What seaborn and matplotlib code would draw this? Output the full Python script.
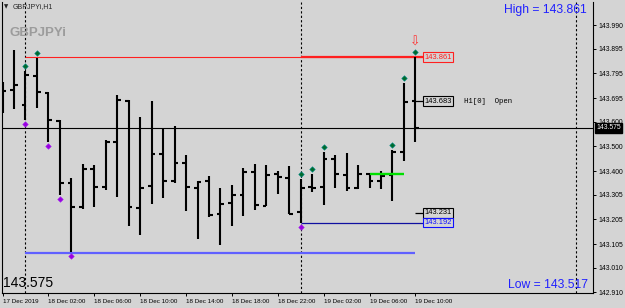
import matplotlib
matplotlib.use("Agg")
import matplotlib.pyplot as plt
import seaborn as sns
import pandas as pd
from matplotlib.transforms import ScaledTranslation, blended_transform_factory

# ---------------- data ----------------
opens = [143.696, 143.728, 143.667, 143.783, 143.716, 143.604, 143.351, 143.253, 143.408, 143.335,
         143.517, 143.685, 143.252, 143.338, 143.471, 143.361, 143.433, 143.333, 143.358, 143.225,
         143.272, 143.304, 143.396, 143.260, 143.389, 143.374, 143.234, 143.335, 143.337, 143.450,
         143.385, 143.333, 143.388, 143.362, 143.385, 143.477, 143.683]
highs = [143.762, 143.891, 143.806, 143.859, 143.720, 143.607, 143.374, 143.430, 143.426, 143.524,
         143.709, 143.687, 143.619, 143.684, 143.575, 143.582, 143.467, 143.358, 143.382, 143.331,
         143.344, 143.412, 143.428, 143.426, 143.399, 143.419, 143.367, 143.388, 143.477, 143.464,
         143.472, 143.426, 143.392, 143.399, 143.484, 143.755, 143.861]
lows = [143.636, 143.650, 143.605, 143.657, 143.517, 143.304, 143.072, 143.245, 143.256, 143.325,
        143.294, 143.178, 143.140, 143.265, 143.290, 143.351, 143.238, 143.124, 143.215, 143.100,
        143.177, 143.218, 143.242, 143.258, 143.306, 143.226, 143.192, 143.317, 143.263, 143.331,
        143.320, 143.326, 143.333, 143.328, 143.279, 143.442, 143.517]
closes = [143.724, 143.748, 143.787, 143.718, 143.607, 143.350, 143.253, 143.408, 143.335, 143.519,
          143.688, 143.255, 143.331, 143.471, 143.361, 143.433, 143.336, 143.357, 143.222, 143.269,
          143.304, 143.396, 143.263, 143.385, 143.378, 143.228, 143.331, 143.333, 143.450, 143.388,
          143.333, 143.388, 143.362, 143.382, 143.476, 143.680, 143.575]

up_fractal_bars = [2, 3, 26, 27, 28, 34, 35, 36]
down_fractal_bars = [2, 4, 5, 6, 26]

x_tick_bars = [0, 4, 8, 12, 16, 20, 24, 28, 32, 36]
x_tick_labels = ["17 Dec 2019", "18 Dec 02:00", "18 Dec 06:00", "18 Dec 10:00", "18 Dec 14:00",
                 "18 Dec 18:00", "18 Dec 22:00", "19 Dec 02:00", "19 Dec 06:00", "19 Dec 10:00"]
y_tick_values = [143.990, 143.895, 143.795, 143.695, 143.600, 143.500, 143.400, 143.305,
                 143.205, 143.105, 143.010, 142.910]
y_tick_labels = ["143.990", "143.895", "143.795", "143.695", "143.600", "143.500", "143.400",
                 "143.305", "143.205", "143.105", "143.010", "142.910"]

day_separator_bars = [2, 26, 50]
day_high = 143.861
prev_low = 143.070
day_low = 143.192
prev_close = 143.231
green_level = 143.390
green_bars = [32, 35]
current_price = 143.575
bar_open = 143.683
bar_high = 143.861
bar_low = 143.517

BG = "#d4d4d4"

sns.set_theme(style="white")
plt.rcParams["font.family"] = ["Liberation Sans", "DejaVu Sans"]

W, H = 625, 308
fig = plt.figure(figsize=(W / 100, H / 100), dpi=100, facecolor=BG)
ax = fig.add_axes([2 / W, 1 - 293 / H, 591 / W, 291 / H])
ax.set_facecolor(BG)

n = len(opens)
df = pd.DataFrame({"bar": range(n), "open": opens, "high": highs, "low": lows, "close": closes})

# OHLC bars
lw_bar = 1.5
ax.vlines(df["bar"], df["low"], df["high"], color="black", lw=lw_bar, capstyle="butt", zorder=4)
ax.hlines(df["open"], df["bar"] - 0.33, df["bar"], color="black", lw=lw_bar, zorder=4)
ax.hlines(df["close"], df["bar"], df["bar"] + 0.33, color="black", lw=lw_bar, zorder=4)

# separators
for b in day_separator_bars:
    ax.axvline(b, color="black", lw=0.8, ls=(0, (2, 2)), zorder=2)

# current price line
ax.axhline(current_price, color="black", lw=0.8, zorder=3)

label_x = 36.75
# level lines
ax.hlines(day_high, 2, label_x, color="#ff2020", lw=0.8, zorder=3)
ax.hlines(day_high, 26, label_x, color="#ff2020", lw=1.6, zorder=3)
ax.hlines(prev_low, 2, 36, color="#6060ff", lw=1.6, zorder=3)
ax.hlines(day_low, 26, label_x, color="#1010a0", lw=0.9, zorder=3)
ax.hlines(prev_close, 36, label_x, color="black", lw=0.9, zorder=3)
ax.hlines(bar_open, 36, label_x, color="black", lw=0.9, zorder=3)
ax.hlines(green_level, green_bars[0], green_bars[1], color="#00e000", lw=1.7, zorder=5)

# level labels
def level_label(y, txt, col):
    ax.text(label_x + 0.05, y, txt, ha="left", va="center", fontsize=5.4, color=col,
            bbox=dict(boxstyle="square,pad=0.15", facecolor=BG, edgecolor=col, lw=0.8), zorder=6)

level_label(day_high, "143.861", "#ff2020")
level_label(bar_open, "143.683", "black")
level_label(prev_close, "143.231", "black")
level_label(day_low, "143.192", "#1010ff")
ax.text(40.2, bar_open, "H1[0]  Open", ha="left", va="center", fontsize=5.3,
        family=["Liberation Mono", "DejaVu Sans Mono"], color="black")

# fractal markers
up_df = df[df["bar"].isin(up_fractal_bars)]
dn_df = df[df["bar"].isin(down_fractal_bars)]
sns.scatterplot(data=up_df, x="bar", y="high", marker="D", s=8, color="#006a2a",
                edgecolor="#008c8c", linewidth=0.4, ax=ax, zorder=7, legend=False)
ax.collections[-1].set_offset_transform(ax.transData + ScaledTranslation(0, 5 / 100, fig.dpi_scale_trans))
sns.scatterplot(data=dn_df, x="bar", y="low", marker="D", s=8, color="#9a00e0",
                edgecolor="#a020f0", linewidth=0.4, ax=ax, zorder=7, legend=False)
ax.collections[-1].set_offset_transform(ax.transData + ScaledTranslation(0, -4 / 100, fig.dpi_scale_trans))

ax.annotate("⇩", xy=(n - 1, bar_high), xytext=(0, 11), textcoords="offset points",
            ha="center", va="center", color="#ff3030", fontsize=9, family="DejaVu Sans")

# axes
ax.set_xlim(-0.044, 51.48)
ax.set_ylim(142.9071, 144.0838)
ax.set_xlabel("")
ax.set_ylabel("")
ax.yaxis.tick_right()
ax.set_yticks(y_tick_values)
ax.set_yticklabels(y_tick_labels)
ax.set_xticks(x_tick_bars)
ax.set_xticklabels(x_tick_labels)
for lab in ax.get_xticklabels():
    lab.set_ha("left")
ax.tick_params(axis="y", direction="out", length=2.5, width=0.7, pad=1.5, labelsize=4.9,
               colors="black", right=True, left=False)
ax.tick_params(axis="x", direction="out", length=2.5, width=0.7, pad=1.5, labelsize=4.5,
               colors="black", bottom=True)
for side in ["left", "bottom", "right"]:
    ax.spines[side].set_visible(True)
    ax.spines[side].set_color("black")
    ax.spines[side].set_linewidth(0.8)
ax.spines["top"].set_visible(False)
ax.grid(False)

# current price box on axis
ax.text(1.0 + 3 / 591, current_price, "143.575", transform=blended_transform_factory(ax.transAxes, ax.transData),
        ha="left", va="center", fontsize=4.9, color="white",
        bbox=dict(boxstyle="square,pad=0.2", facecolor="black", edgecolor="black"), clip_on=False, zorder=8)

# figure texts
def fx(px):
    return px / W

def fy(py):
    return 1 - py / H

fig.text(fx(4), fy(7), "▼", fontsize=4, ha="left", va="center", family="DejaVu Sans")
fig.text(fx(13), fy(7), "GBPJPYi,H1", fontsize=5, ha="left", va="center")
fig.text(fx(9), fy(33), "GBPJPYi", fontsize=9.5, fontweight="bold", color="#9c9c9c",
         ha="left", va="center", family=["Liberation Sans Narrow", "Liberation Sans"])
fig.text(fx(587), fy(10), "High = 143.861", fontsize=8.7, color="#2020ff", ha="right", va="center")
fig.text(fx(588), fy(285), "Low = 143.517", fontsize=8.7, color="#2020ff", ha="right", va="center")
fig.text(fx(3), fy(283), "143.575", fontsize=10, color="black", ha="left", va="center")

fig.savefig("out.png", dpi=100, facecolor=BG)
